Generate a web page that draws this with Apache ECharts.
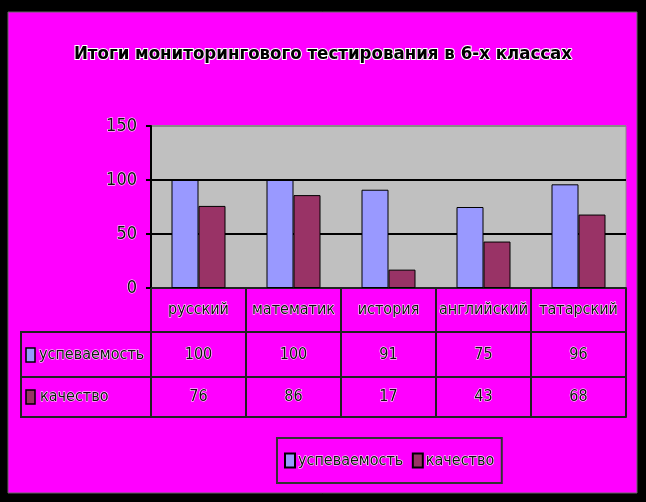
<!DOCTYPE html>
<html><head><meta charset="utf-8">
<script src="https://cdn.jsdelivr.net/npm/echarts@6/dist/echarts.min.js"></script>
<style>html,body{margin:0;padding:0;background:#000;}#c{width:646px;height:502px;}</style>
</head><body><div id="c"></div>
<script>
const titleText = 'Итоги мониторингового тестирования в 6-х классах';
const categories = ['русский', 'математик', 'история', 'английский', 'татарский'];
const seriesNames = ['успеваемость', 'качество'];
const uspevaemost = [100, 100, 91, 75, 96];
const kachestvo = [76, 86, 17, 43, 68];
const yMin = 0, yMax = 150, yStep = 50;

const FONT = '"DejaVu Sans Condensed", "Liberation Sans", sans-serif';
const colors = ['#9999FF', '#993366'];
const G = { left: 151, top: 126, width: 475, height: 162 };
const rowH = [44, 45, 40];
const txt = { fontFamily: FONT, fontSize: 16, color: '#111', textBorderColor: '#fff', textBorderWidth: 1 };
const lineC = '#222';

const chart = echarts.init(document.getElementById('c'), null, { renderer: 'canvas' });

function tableAxis(idx, offset, len, values) {
  return {
    type: 'category', gridIndex: 0, position: 'bottom', offset: offset,
    data: categories,
    axisLine: { show: true, lineStyle: { color: lineC, width: 2 } },
    axisTick: { show: len > 0, length: len, alignWithLabel: false, lineStyle: { color: lineC, width: 2 } },
    axisLabel: values ? Object.assign({ show: true, interval: 0, margin: len / 2, verticalAlign: 'middle',
      formatter: function (v, i) { return String(values[i]); } }, txt) : { show: false },
    splitLine: { show: false }
  };
}

const y0 = G.top + G.height;
const tableLeft = 21;
const r1 = y0 + rowH[0], r2 = r1 + rowH[1], r3 = r2 + rowH[2];

chart.setOption({
  backgroundColor: '#000',
  title: {
    text: titleText, left: 'center', top: 40,
    textStyle: { fontFamily: FONT, fontSize: 18.5, fontWeight: 'bold', color: '#000', textBorderColor: '#fff', textBorderWidth: 2 }
  },
  legend: {
    data: seriesNames, left: 277, top: 438, orient: 'horizontal',
    padding: [14, 7], itemGap: 8, itemWidth: 10, itemHeight: 14, icon: 'rect',
    borderColor: '#333', borderWidth: 2,
    textStyle: Object.assign({ padding: [0, 0, 0, -2] }, txt)
  },
  grid: { left: G.left, top: G.top, width: G.width, height: G.height, show: true, backgroundColor: '#C0C0C0', borderColor: '#8a8a8a', borderWidth: 1 },
  xAxis: [
    {
      type: 'category', data: categories, position: 'bottom',
      axisLine: { show: true, lineStyle: { color: lineC, width: 2 } },
      axisTick: { show: true, length: rowH[0], alignWithLabel: false, lineStyle: { color: lineC, width: 2 } },
      axisLabel: Object.assign({ interval: 0, margin: rowH[0] / 2, verticalAlign: 'middle' }, txt)
    },
    tableAxis(1, rowH[0], rowH[1], uspevaemost),
    tableAxis(2, rowH[0] + rowH[1], rowH[2], kachestvo),
    tableAxis(3, rowH[0] + rowH[1] + rowH[2], 0, null)
  ],
  yAxis: {
    type: 'value', min: yMin, max: yMax, interval: yStep,
    axisLine: { show: true, lineStyle: { color: '#000', width: 2 } },
    axisTick: { show: true, length: 5, lineStyle: { color: '#000', width: 2 } },
    axisLabel: Object.assign({ margin: 14 }, txt, { fontSize: 18 }),
    splitLine: { show: true, lineStyle: { color: ['#000', '#000', '#000', '#8a8a8a'], width: 2 } }
  },
  series: [
    { name: seriesNames[0], type: 'bar', data: uspevaemost, barWidth: 27, barGap: '0%',
      itemStyle: { color: colors[0], borderColor: '#000', borderWidth: 1 } },
    { name: seriesNames[1], type: 'bar', data: kachestvo, barWidth: 27, barGap: '0%',
      itemStyle: { color: colors[1], borderColor: '#000', borderWidth: 1 } }
  ],
  graphic: [
    { type: 'rect', z: -10, shape: { x: 8, y: 12, width: 629, height: 481 }, style: { fill: '#FF00FF', stroke: '#666', lineWidth: 1 } },
    { type: 'rect', shape: { x: tableLeft, y: r1, width: G.left - tableLeft, height: r3 - r1 }, style: { fill: 'none', stroke: lineC, lineWidth: 2 } },
    { type: 'line', shape: { x1: tableLeft, y1: r2, x2: G.left, y2: r2 }, style: { stroke: lineC, lineWidth: 2 } },
    { type: 'rect', shape: { x: 26, y: r1 + 16, width: 9, height: 14 }, style: { fill: colors[0], stroke: '#000', lineWidth: 1.5 } },
    { type: 'text', style: { x: 39, y: r1 + rowH[1] / 2, text: seriesNames[0], verticalAlign: 'middle', fill: txt.color, stroke: '#fff', lineWidth: 1, font: '16px ' + FONT } },
    { type: 'rect', shape: { x: 26, y: r2 + 13, width: 9, height: 14 }, style: { fill: colors[1], stroke: '#000', lineWidth: 1.5 } },
    { type: 'text', style: { x: 40, y: r2 + rowH[2] / 2, text: seriesNames[1], verticalAlign: 'middle', fill: txt.color, stroke: '#fff', lineWidth: 1, font: '16px ' + FONT } }
  ]
});
</script></body></html>
